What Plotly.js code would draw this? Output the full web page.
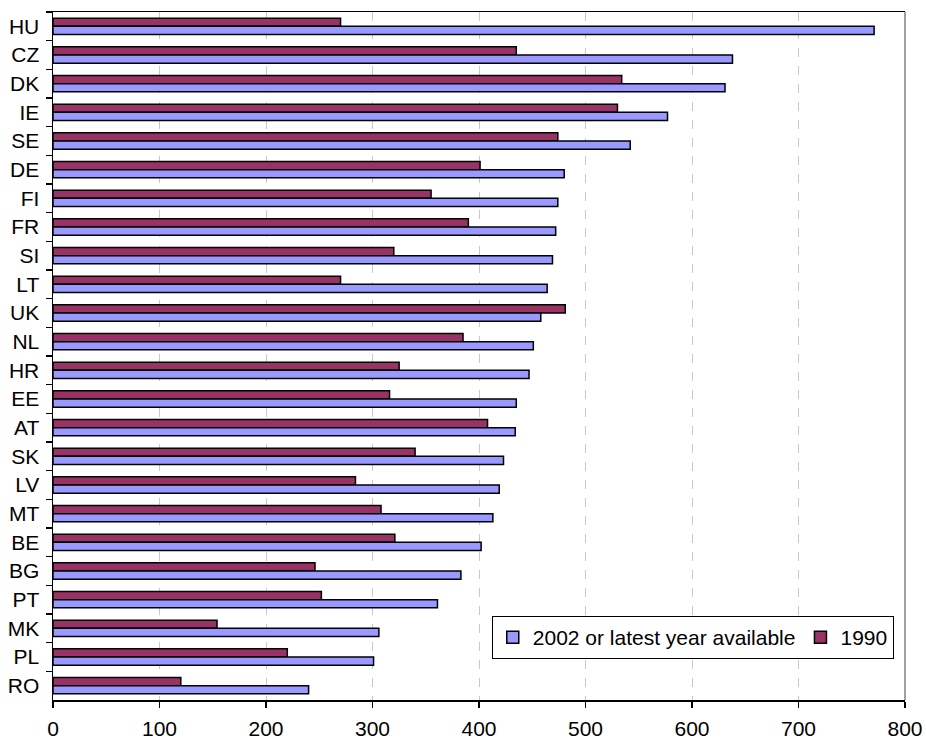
<!DOCTYPE html>
<html>
<head>
<meta charset="utf-8">
<script src="https://cdn.plot.ly/plotly-3.0.1.min.js"></script>
<style>html,body{margin:0;padding:0;background:#fff;}#chart{width:926px;height:740px;}</style>
</head>
<body>
<div id="chart"></div>
<script>
// Categories top to bottom
const countries = ["HU","CZ","DK","IE","SE","DE","FI","FR","SI","LT","UK","NL","HR","EE","AT","SK","LV","MT","BE","BG","PT","MK","PL","RO"];
const values2002 = [771, 638, 631, 577, 542, 480, 474, 472, 469, 464, 458, 451, 447, 435, 434, 423, 419, 413, 402, 383, 361, 306, 301, 240];
const values1990 = [270, 435, 534, 530, 474, 401, 355, 390, 320, 270, 481, 385, 325, 316, 408, 340, 284, 308, 321, 246, 252, 154, 220, 120];
const seriesNames = ["2002 or latest year available", "1990"];
const xTicks = [0, 100, 200, 300, 400, 500, 600, 700, 800];

const font = {family: "Liberation Sans, Arial, sans-serif", size: 21, color: "#000"};

const traces = [
  {
    type: "bar", orientation: "h", name: seriesNames[1],
    y: countries, x: values1990,
    marker: {color: "#993366", line: {color: "#000", width: 1.5}},
    hoverinfo: "x+y"
  },
  {
    type: "bar", orientation: "h", name: seriesNames[0],
    y: countries, x: values2002,
    marker: {color: "#9999FF", line: {color: "#000", width: 1.5}},
    hoverinfo: "x+y"
  }
];

const layout = {
  width: 926, height: 740,
  margin: {l: 53, r: 21, t: 12, b: 40},
  paper_bgcolor: "#fff", plot_bgcolor: "#fff",
  font: font,
  barmode: "group",
  bargap: 0.43,
  bargroupgap: 0,
  showlegend: true,
  legend: {
    orientation: "h", traceorder: "reversed",
    x: 0.515, y: 0.122, xanchor: "left", yanchor: "top",
    bgcolor: "#fff", bordercolor: "#000", borderwidth: 1,
    font: {family: "Liberation Sans, Arial, sans-serif", size: 21, color: "#000"}
  },
  xaxis: {
    range: [0, 800], tickvals: xTicks, ticktext: xTicks.map(String),
    showgrid: true, gridcolor: "#c8c8c8", griddash: "dash", gridwidth: 1,
    zeroline: false,
    showline: true, linecolor: "#000", linewidth: 1.5, mirror: true,
    ticks: "outside", ticklen: 6, tickcolor: "#000", tickwidth: 1.5,
    ticklabelstandoff: 3,
    tickfont: font, fixedrange: true
  },
  yaxis: {
    type: "category", categoryorder: "array", categoryarray: countries,
    autorange: "reversed",
    showgrid: false, zeroline: false,
    showline: true, linecolor: "#000", linewidth: 1.5,
    ticks: "outside", tickson: "boundaries", ticklen: 6, tickcolor: "#000", tickwidth: 1.5,
    ticklabelstandoff: 8,
    tickfont: font, fixedrange: true
  },
  shapes: [
    {type: "line", xref: "paper", yref: "paper", x0: 1, x1: 1, y0: 0, y1: 1,
     line: {color: "#808080", width: 1.5}}
  ]
};

Plotly.newPlot("chart", traces, layout, {displayModeBar: false, staticPlot: true});
</script>
</body>
</html>
